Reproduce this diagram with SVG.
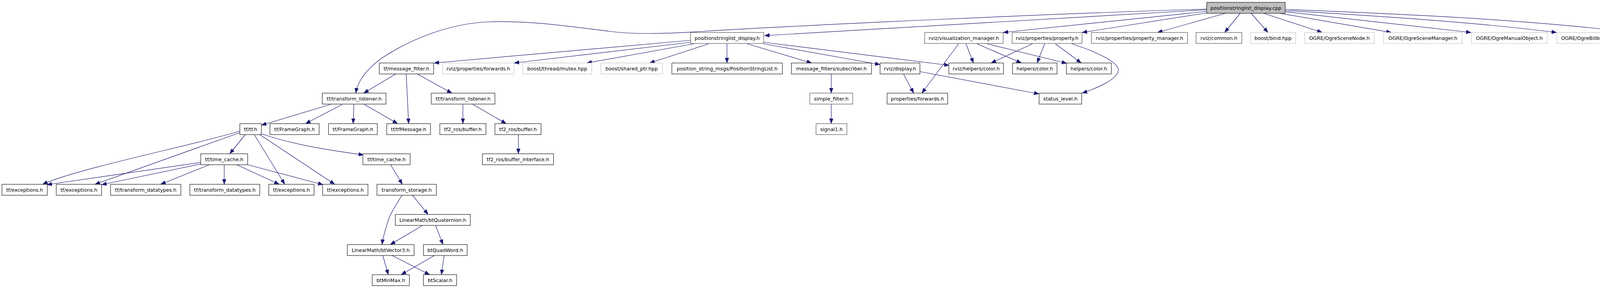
<svg xmlns="http://www.w3.org/2000/svg" width="4385" height="736" viewBox="0 0 4385 736">
<style>
rect{fill:#fff;stroke:#000;stroke-width:1.1}
rect.g{stroke:#bfbfbf}
rect.d{stroke:#404040}
rect.root{fill:#bfbfbf;stroke:#000}
text{font-family:"DejaVu Sans","Liberation Sans",Arial,sans-serif;font-size:12.67px;text-anchor:middle;fill:#000}
#edges path{fill:none;stroke:#191970;stroke-width:1.2;marker-end:url(#ah)}
</style>
<defs>
<marker id="ah" markerUnits="userSpaceOnUse" markerWidth="13" markerHeight="10" viewBox="0 0 13 10" refX="13" refY="5" orient="auto"><path d="M0,0 L13,5 L0,10 z" fill="#191970" stroke="#191970" stroke-width="0.5"/></marker>
</defs>
<rect x="0" y="0" width="4385" height="736" style="fill:#fff;stroke:none"/>
<g id="edges">
<path d="M3089,25 L1957,91"/>
<path d="M3089,23 C2700,35 2100,62 1800,80 C1700,87 1620,88 1560,80 C1450,66 1350,52 1250,56 C1150,60 1050,100 975,150 C935,180 915,210 911,238"/>
<path d="M3089,29 L2568,83"/>
<path d="M3089,33 L2770,83"/>
<path d="M3137,34 L2963,83"/>
<path d="M3175,34 L3135,83"/>
<path d="M3203,34 L3246,83"/>
<path d="M3235,34 L3385,83"/>
<path d="M3276,34 L3562,83"/>
<path d="M3290,30 L3766,83"/>
<path d="M3290,27 C3600,45 3800,60 3985,83"/>
<path d="M3290,24 C3700,40 3950,55 4189,84"/>
<path d="M1768,103 L1111,161"/>
<path d="M1768,108 L1316,161"/>
<path d="M1776,112 L1502,161"/>
<path d="M1814,112 L1663,161"/>
<path d="M1861,112 L1861,161"/>
<path d="M1913,112 L2078,161"/>
<path d="M1955,112 L2253,165"/>
<path d="M1955,108 L2430,167"/>
<path d="M1013,189 L931,238"/>
<path d="M1040,189 L1046,316"/>
<path d="M1068,189 L1157,238"/>
<path d="M846,267 L669,320"/>
<path d="M876,267 L782,316"/>
<path d="M906,267 L904,316"/>
<path d="M933,267 L1018,316"/>
<path d="M1185,267 L1185,316"/>
<path d="M1211,267 L1296,316"/>
<path d="M1327,344 L1327,393"/>
<path d="M2128,189 L2128,238"/>
<path d="M2128,267 L2128,316"/>
<path d="M2454,112 L2360,238"/>
<path d="M2473,112 L2492,161"/>
<path d="M2501,112 L2615,161"/>
<path d="M2527,112 L2731,162"/>
<path d="M2643,112 L2537,161"/>
<path d="M2674,112 L2655,161"/>
<path d="M2702,112 L2768,161"/>
<path d="M2744,112 C2800,130 2865,158 2863,180 C2860,205 2800,228 2770,238"/>
<path d="M2313,189 L2339,238"/>
<path d="M2355,183 L2660,240"/>
<path d="M628,344 L588,393"/>
<path d="M614,335 C500,370 200,430 109,471"/>
<path d="M614,339 L243,471"/>
<path d="M651,344 L729,471"/>
<path d="M665,344 L857,471"/>
<path d="M670,342 C750,370 850,385 931,396"/>
<path d="M514,415 L120,472"/>
<path d="M514,419 L260,472"/>
<path d="M536,421 L411,471"/>
<path d="M574,421 L574,471"/>
<path d="M606,421 L715,471"/>
<path d="M634,421 L827,472"/>
<path d="M1000,421 L1030,471"/>
<path d="M1029,499 C1010,530 1000,545 995,560 C985,590 980,610 978,625"/>
<path d="M1056,499 L1096,548"/>
<path d="M1082,576 L999,625"/>
<path d="M1115,576 L1134,625"/>
<path d="M980,653 L994,702"/>
<path d="M1004,653 L1100,702"/>
<path d="M1112,653 L1027,702"/>
<path d="M1137,653 L1130,702"/>
</g>
<g id="n_cpp"><rect class="root" x="3089" y="6" width="201" height="28"/><text x="3189.5" y="25">positionstringlist_display.cpp</text></g>
<g id="n_psd_h"><rect class="d" x="1768" y="83" width="187" height="28"/><text x="1861.5" y="102">positionstringlist_display.h</text></g>
<g id="n_vis_mgr"><rect class="d" x="2367" y="83" width="201" height="28"/><text x="2467.5" y="102">rviz/visualization_manager.h</text></g>
<g id="n_property"><rect class="d" x="2591" y="83" width="179" height="28"/><text x="2680.5" y="102">rviz/properties/property.h</text></g>
<g id="n_property_mgr"><rect class="d" x="2794" y="83" width="246" height="28"/><text x="2917" y="102">rviz/properties/property_manager.h</text></g>
<g id="n_common"><rect class="d" x="3062" y="83" width="117" height="28"/><text x="3120.5" y="102">rviz/common.h</text></g>
<g id="n_bind"><rect class="g" x="3201" y="83" width="116" height="28"/><text x="3259" y="102">boost/bind.hpp</text></g>
<g id="n_scenenode"><rect class="g" x="3340" y="83" width="178" height="28"/><text x="3429" y="102">OGRE/OgreSceneNode.h</text></g>
<g id="n_scenemgr"><rect class="g" x="3542" y="83" width="201" height="28"/><text x="3642.5" y="102">OGRE/OgreSceneManager.h</text></g>
<g id="n_manualobj"><rect class="g" x="3767" y="83" width="194" height="28"/><text x="3864" y="102">OGRE/OgreManualObject.h</text></g>
<g id="n_billboard"><rect class="g" x="3985" y="83" width="183" height="28"/><text x="4076.5" y="102">OGRE/OgreBillboardSet.h</text></g>
<g id="n_movable"><rect class="d" x="4187" y="83" width="193" height="28"/><text x="4283.5" y="102">ogre_tools/movable_text.h</text></g>
<g id="n_msgfilter"><rect x="971" y="161" width="139" height="28"/><text x="1040.5" y="180">tf/message_filter.h</text></g>
<g id="n_propfwd"><rect class="g" x="1133" y="161" width="183" height="28"/><text x="1224.5" y="180">rviz/properties/forwards.h</text></g>
<g id="n_mutex"><rect class="g" x="1338" y="161" width="177" height="28"/><text x="1426.5" y="180">boost/thread/mutex.hpp</text></g>
<g id="n_sharedptr"><rect class="g" x="1538" y="161" width="158" height="28"/><text x="1617" y="180">boost/shared_ptr.hpp</text></g>
<g id="n_psl"><rect x="1720" y="161" width="283" height="28"/><text x="1861.5" y="180">position_string_msgs/PositionStringList.h</text></g>
<g id="n_subscriber"><rect x="2026" y="161" width="205" height="28"/><text x="2128.5" y="180">message_filters/subscriber.h</text></g>
<g id="n_display"><rect x="2253" y="161" width="102" height="28"/><text x="2304" y="180">rviz/display.h</text></g>
<g id="n_rvizcolor"><rect x="2429" y="161" width="140" height="28"/><text x="2499" y="180">rviz/helpers/color.h</text></g>
<g id="n_color1"><rect x="2592" y="161" width="114" height="28"/><text x="2649" y="180">helpers/color.h</text></g>
<g id="n_color2"><rect x="2730" y="161" width="115" height="28"/><text x="2787.5" y="180">helpers/color.h</text></g>
<g id="n_tl1"><rect x="825" y="238" width="163" height="28"/><text x="906.5" y="257">tf/transform_listener.h</text></g>
<g id="n_tl2"><rect x="1104" y="238" width="163" height="28"/><text x="1185.5" y="257">tf/transform_listener.h</text></g>
<g id="n_simplefilter"><rect class="d" x="2073" y="238" width="110" height="28"/><text x="2128" y="257">simple_filter.h</text></g>
<g id="n_propfwd2"><rect x="2271" y="238" width="155" height="28"/><text x="2348.5" y="257">properties/forwards.h</text></g>
<g id="n_status"><rect x="2660" y="238" width="109" height="28"/><text x="2714.5" y="257">status_level.h</text></g>
<g id="n_tf"><rect x="614" y="316" width="55" height="28"/><text x="641.5" y="335">tf/tf.h</text></g>
<g id="n_fg1"><rect x="691" y="316" width="126" height="28"/><text x="754" y="335">tf/FrameGraph.h</text></g>
<g id="n_fg2"><rect x="841" y="316" width="125" height="28"/><text x="903.5" y="335">tf/FrameGraph.h</text></g>
<g id="n_tfmsg"><rect x="990" y="316" width="112" height="28"/><text x="1046" y="335">tf/tfMessage.h</text></g>
<g id="n_buf1"><rect x="1126" y="316" width="118" height="28"/><text x="1185" y="335">tf2_ros/buffer.h</text></g>
<g id="n_buf2"><rect x="1267" y="316" width="118" height="28"/><text x="1326" y="335">tf2_ros/buffer.h</text></g>
<g id="n_signal1"><rect class="d" x="2089" y="316" width="79" height="28"/><text x="2128.5" y="335">signal1.h</text></g>
<g id="n_tc1"><rect x="514" y="393" width="120" height="28"/><text x="574" y="412">tf/time_cache.h</text></g>
<g id="n_tc2"><rect x="929" y="393" width="121" height="28"/><text x="989.5" y="412">tf/time_cache.h</text></g>
<g id="n_bufif"><rect x="1235" y="393" width="182" height="28"/><text x="1326" y="412">tf2_ros/buffer_interface.h</text></g>
<g id="n_exc1"><rect x="5" y="471" width="116" height="28"/><text x="63" y="490">tf/exceptions.h</text></g>
<g id="n_exc2"><rect x="144" y="471" width="116" height="28"/><text x="202" y="490">tf/exceptions.h</text></g>
<g id="n_td1"><rect x="283" y="471" width="180" height="28"/><text x="373" y="490">tf/transform_datatypes.h</text></g>
<g id="n_td2"><rect x="486" y="471" width="179" height="28"/><text x="575.5" y="490">tf/transform_datatypes.h</text></g>
<g id="n_exc3"><rect x="688" y="471" width="116" height="28"/><text x="746" y="490">tf/exceptions.h</text></g>
<g id="n_exc4"><rect x="826" y="471" width="116" height="28"/><text x="884" y="490">tf/exceptions.h</text></g>
<g id="n_tstorage"><rect x="965" y="471" width="152" height="28"/><text x="1041" y="490">transform_storage.h</text></g>
<g id="n_quat"><rect x="1012" y="548" width="192" height="28"/><text x="1108" y="567">LinearMath/btQuaternion.h</text></g>
<g id="n_vec3"><rect x="889" y="625" width="171" height="28"/><text x="974.5" y="644">LinearMath/btVector3.h</text></g>
<g id="n_quadword"><rect x="1084" y="625" width="112" height="28"/><text x="1140" y="644">btQuadWord.h</text></g>
<g id="n_minmax"><rect x="953" y="702" width="95" height="28"/><text x="1000.5" y="721">btMinMax.h</text></g>
<g id="n_scalar"><rect x="1084" y="702" width="85" height="28"/><text x="1126.5" y="721">btScalar.h</text></g>
</svg>
